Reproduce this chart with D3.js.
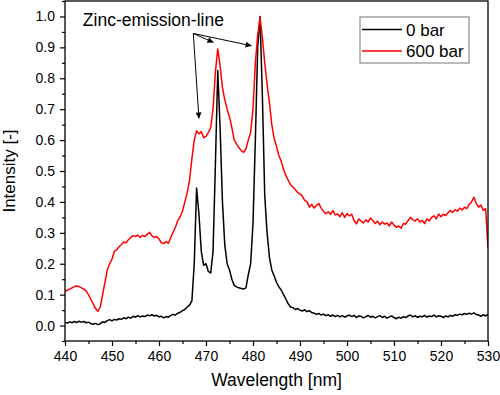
<!DOCTYPE html>
<html>
<head>
<meta charset="utf-8">
<script src="https://cdn.jsdelivr.net/npm/d3@7"></script>
<style>
  html, body { margin: 0; padding: 0; background: #fff; }
  svg text { font-family: "Liberation Sans", Arial, sans-serif; fill: #000; }
</style>
</head>
<body>
<div id="chart"></div>
<script>
// x grid of the spectra (nm), 0.5 nm step
const wavelength = d3.range(0, 181).map(i => 440 + i * 0.5);

// 0 bar, one row = 5 nm
const bar0 = [
  0.010,0.008,0.012,0.009,0.013,0.010,0.014,0.011,0.013,0.009,
  0.011,0.006,0.004,0.007,0.003,0.006,0.012,0.010,0.016,0.019,
  0.015,0.020,0.018,0.022,0.020,0.025,0.022,0.027,0.024,0.030,
  0.027,0.032,0.028,0.031,0.029,0.034,0.032,0.035,0.031,0.033,
  0.028,0.030,0.025,0.029,0.027,0.033,0.036,0.034,0.040,0.043,
  0.048,0.052,0.060,0.066,0.080,0.200,0.445,0.360,0.240,0.195,
  0.200,0.175,0.170,0.240,0.520,0.825,0.640,0.400,0.260,0.200,
  0.180,0.150,0.130,0.125,0.122,0.120,0.118,0.122,0.165,0.200,
  0.330,0.600,0.900,1.000,0.740,0.420,0.300,0.220,0.180,0.160,
  0.140,0.125,0.115,0.100,0.085,0.070,0.060,0.058,0.052,0.055,
  0.050,0.047,0.051,0.045,0.048,0.042,0.040,0.036,0.039,0.034,
  0.037,0.032,0.035,0.030,0.034,0.029,0.033,0.028,0.032,0.027,
  0.031,0.034,0.029,0.033,0.026,0.031,0.030,0.025,0.029,0.033,
  0.027,0.030,0.025,0.029,0.032,0.026,0.030,0.024,0.028,0.031,
  0.026,0.022,0.027,0.024,0.029,0.026,0.031,0.034,0.028,0.032,
  0.026,0.030,0.028,0.033,0.027,0.031,0.029,0.034,0.028,0.032,
  0.030,0.026,0.031,0.028,0.033,0.030,0.035,0.033,0.037,0.035,
  0.039,0.036,0.040,0.037,0.041,0.036,0.034,0.030,0.035,0.031,
  0.036
];

// 600 bar
const bar600 = [
  0.110,0.115,0.118,0.122,0.126,0.128,0.126,0.122,0.118,0.112,
  0.100,0.085,0.070,0.055,0.046,0.060,0.100,0.140,0.180,0.200,
  0.215,0.240,0.245,0.255,0.262,0.270,0.268,0.278,0.285,0.291,
  0.288,0.293,0.285,0.292,0.288,0.295,0.302,0.290,0.285,0.288,
  0.280,0.268,0.265,0.272,0.266,0.285,0.302,0.318,0.340,0.352,
  0.370,0.400,0.430,0.470,0.540,0.600,0.630,0.620,0.628,0.608,
  0.612,0.625,0.640,0.700,0.820,0.895,0.840,0.770,0.730,0.700,
  0.675,0.640,0.600,0.588,0.575,0.566,0.560,0.572,0.600,0.625,
  0.700,0.850,0.940,0.998,0.930,0.850,0.780,0.720,0.650,0.605,
  0.580,0.550,0.532,0.505,0.485,0.470,0.455,0.448,0.440,0.430,
  0.426,0.418,0.405,0.400,0.383,0.392,0.380,0.388,0.395,0.380,
  0.370,0.362,0.368,0.360,0.372,0.358,0.361,0.352,0.365,0.350,
  0.362,0.355,0.360,0.340,0.329,0.345,0.338,0.332,0.342,0.335,
  0.348,0.340,0.330,0.338,0.326,0.335,0.328,0.332,0.322,0.335,
  0.325,0.318,0.322,0.315,0.330,0.328,0.340,0.350,0.342,0.338,
  0.345,0.335,0.340,0.330,0.345,0.338,0.350,0.355,0.345,0.361,
  0.352,0.360,0.356,0.365,0.372,0.366,0.375,0.370,0.380,0.374,
  0.383,0.378,0.392,0.400,0.415,0.395,0.383,0.390,0.372,0.378,
  0.250
];

const seriesNames = ["0 bar", "600 bar"];
const seriesColors = ["#000000", "#ff0000"];

const xTicks = [440, 450, 460, 470, 480, 490, 500, 510, 520, 530];
const yTicks = [0.0, 0.1, 0.2, 0.3, 0.4, 0.5, 0.6, 0.7, 0.8, 0.9, 1.0];

// annotation: label anchor and arrows (data coordinates)
const noteText = "Zinc-emission-line";
const notePos = [443.8, 0.968];
const arrowFrom = [467.3, 0.945];
const arrowTips = [[468.5, 0.67], [471.6, 0.916], [479.7, 0.905]];

let margin = {top: 1, right: 12, bottom: 54, left: 65};
let width = 500 - margin.left - margin.right,
    height = 395 - margin.top - margin.bottom;

let svg = d3.select("#chart").append("svg")
    .attr("width", 500)
    .attr("height", 395);

svg.append("defs").append("marker")
    .attr("id", "head")
    .attr("viewBox", "0 0 10 10")
    .attr("refX", 10)
    .attr("refY", 5)
    .attr("markerUnits", "userSpaceOnUse")
    .attr("markerWidth", 9)
    .attr("markerHeight", 6)
    .attr("orient", "auto")
    .append("path")
    .attr("d", "M0,0 L10,5 L0,10 Z")
    .attr("fill", "#000");

let g = svg.append("g")
    .attr("transform", "translate(" + margin.left + "," + margin.top + ")");

let x = d3.scaleLinear().domain([440, 530]).range([0, width]);
let y = d3.scaleLinear().domain([-0.05, 1.05]).range([height, 0]);

g.append("clipPath").attr("id", "clip")
    .append("rect").attr("width", width).attr("height", height);

// lines
[bar0, bar600].forEach(function (vals, i) {
    let line = d3.line()
        .x(function (d, j) { return x(wavelength[j]); })
        .y(function (d) { return y(d); });
    g.append("path")
        .datum(vals)
        .attr("clip-path", "url(#clip)")
        .attr("fill", "none")
        .attr("stroke", seriesColors[i])
        .attr("stroke-width", 1.5)
        .attr("stroke-linejoin", "round")
        .attr("d", line);
});

// frame
g.append("rect")
    .attr("width", width).attr("height", height)
    .attr("fill", "none").attr("stroke", "#000").attr("stroke-width", 1.3);

// x axis, major + minor ticks
let xMinor = d3.range(445, 530, 10);
let gx = g.append("g").attr("transform", "translate(0," + height + ")");
gx.call(d3.axisBottom(x).tickValues(xTicks).tickSize(5).tickPadding(5).tickFormat(d3.format("d")));
gx.append("g").call(d3.axisBottom(x).tickValues(xMinor).tickSize(3).tickFormat(""));
gx.selectAll(".domain").remove();
gx.selectAll("line").attr("stroke", "#000").attr("stroke-width", 1.2);
gx.selectAll("text").attr("font-size", "14px").attr("font-family", "Liberation Sans, Arial, sans-serif");

let yMinor = d3.range(-0.05, 1.06, 0.1).map(v => +v.toFixed(2));
let gy = g.append("g");
gy.call(d3.axisLeft(y).tickValues(yTicks).tickSize(5).tickPadding(5).tickFormat(d3.format(".1f")));
gy.append("g").call(d3.axisLeft(y).tickValues(yMinor).tickSize(3).tickFormat(""));
gy.selectAll(".domain").remove();
gy.selectAll("line").attr("stroke", "#000").attr("stroke-width", 1.2);
gy.selectAll("text").attr("font-size", "14px").attr("font-family", "Liberation Sans, Arial, sans-serif");

// axis titles
g.append("text")
    .attr("x", width / 2)
    .attr("y", height + 45)
    .attr("text-anchor", "middle")
    .attr("font-size", "17.5px")
    .text("Wavelength [nm]");

g.append("text")
    .attr("transform", "translate(" + (-50) + "," + (height / 2) + ") rotate(-90)")
    .attr("text-anchor", "middle")
    .attr("font-size", "17px")
    .text("Intensity [-]");

// annotation
g.append("text")
    .attr("x", x(notePos[0]))
    .attr("y", y(notePos[1]))
    .attr("font-size", "17.5px")
    .text(noteText);

arrowTips.forEach(function (t) {
    g.append("line")
        .attr("x1", x(arrowFrom[0])).attr("y1", y(arrowFrom[1]))
        .attr("x2", x(t[0])).attr("y2", y(t[1]))
        .attr("stroke", "#000")
        .attr("stroke-width", 1)
        .attr("marker-end", "url(#head)");
});

// legend
let legend = svg.append("g").attr("transform", "translate(360,17)");
legend.append("rect")
    .attr("width", 109).attr("height", 46)
    .attr("fill", "#fff").attr("stroke", "#777").attr("stroke-width", 1);
seriesNames.forEach(function (name, i) {
    let row = legend.append("g").attr("transform", "translate(0," + (12.5 + i * 21.5) + ")");
    row.append("line")
        .attr("x1", 2).attr("x2", 42)
        .attr("stroke", seriesColors[i]).attr("stroke-width", 1.6);
    row.append("text")
        .attr("x", 46).attr("y", 6)
        .attr("font-size", "17px")
        .text(name);
});
</script>
</body>
</html>
